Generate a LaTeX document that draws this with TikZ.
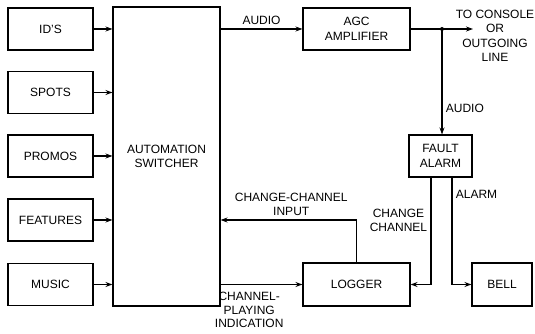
\documentclass[tikz,border=0pt]{standalone}
\usepackage{fontspec}
\setmainfont{Liberation Sans}
\usetikzlibrary{arrows.meta}

\begin{document}
\begin{tikzpicture}[x=1pt,y=1pt,->,>={Stealth[length=7pt,width=5pt]},line width=1.1pt,align=center,
        font=\fontsize{12}{14.5}\selectfont,
        block/.style={draw,rectangle,-,minimum width=85pt,minimum height=42pt,inner sep=2pt}]
        \useasboundingbox (0,0) rectangle (535,334);

        % sources
        \node[block] (ids) at (50.5,305) {ID'S};
        \node[block] (spots) at (50.5,241.5) {SPOTS};
        \node[block] (promos) at (50.5,178) {PROMOS};
        \node[block] (features) at (50.5,114) {FEATURES};
        \node[block] (music) at (50.5,49.5) {MUSIC};

        \node[block,minimum width=107pt,minimum height=299pt] (switcher) at (166.5,177.5) {AUTOMATION\\SWITCHER};
        \node[block,minimum width=107pt] (agc) at (356.5,305) {AGC\\AMPLIFIER};
        \node[block,minimum width=63pt] (fault) at (440.5,178) {FAULT\\ALARM};
        \node[block,minimum width=107pt,minimum height=43pt] (logger) at (356.5,49.5) {LOGGER};
        \node[block,minimum width=60pt,minimum height=43pt] (bell) at (502,49.5) {BELL};

        \coordinate (jn) at (442,305);
        \coordinate (out) at (473,305);
        \node[inner sep=1pt] (console) at (495,298) {TO CONSOLE\\OR\\OUTGOING\\LINE};

        \foreach \src in {ids,spots,promos,features,music}
            \draw[->] (\src) -- (\src -| switcher.west);

        \draw[->] (agc -| switcher.east) -- node[above] {AUDIO} (agc.west);
        \draw[->] (agc.east) -- (out);
        \fill (jn) circle (2pt);
        \draw[->] (jn) -- node[right,pos=0.75] {AUDIO} (jn |- fault.north);
        \draw[->] ([xshift=-9.5pt]fault.south) |- node[left,pos=0.2] {CHANGE\\CHANNEL} (logger.east);
        \draw[->] ([xshift=11.5pt]fault.south) |- node[right,pos=0.08] {ALARM} (bell.west);
        \draw[->] (logger.north) |- node[above,pos=0.74] {CHANGE-CHANNEL\\INPUT} (features -| switcher.east);
        \draw[->] (logger -| switcher.east) -- node[below=4pt,pos=0.35,font=\fontsize{12}{13.5}\selectfont] {CHANNEL-\\PLAYING\\INDICATION} (logger.west);
    \end{tikzpicture}
\end{document}
